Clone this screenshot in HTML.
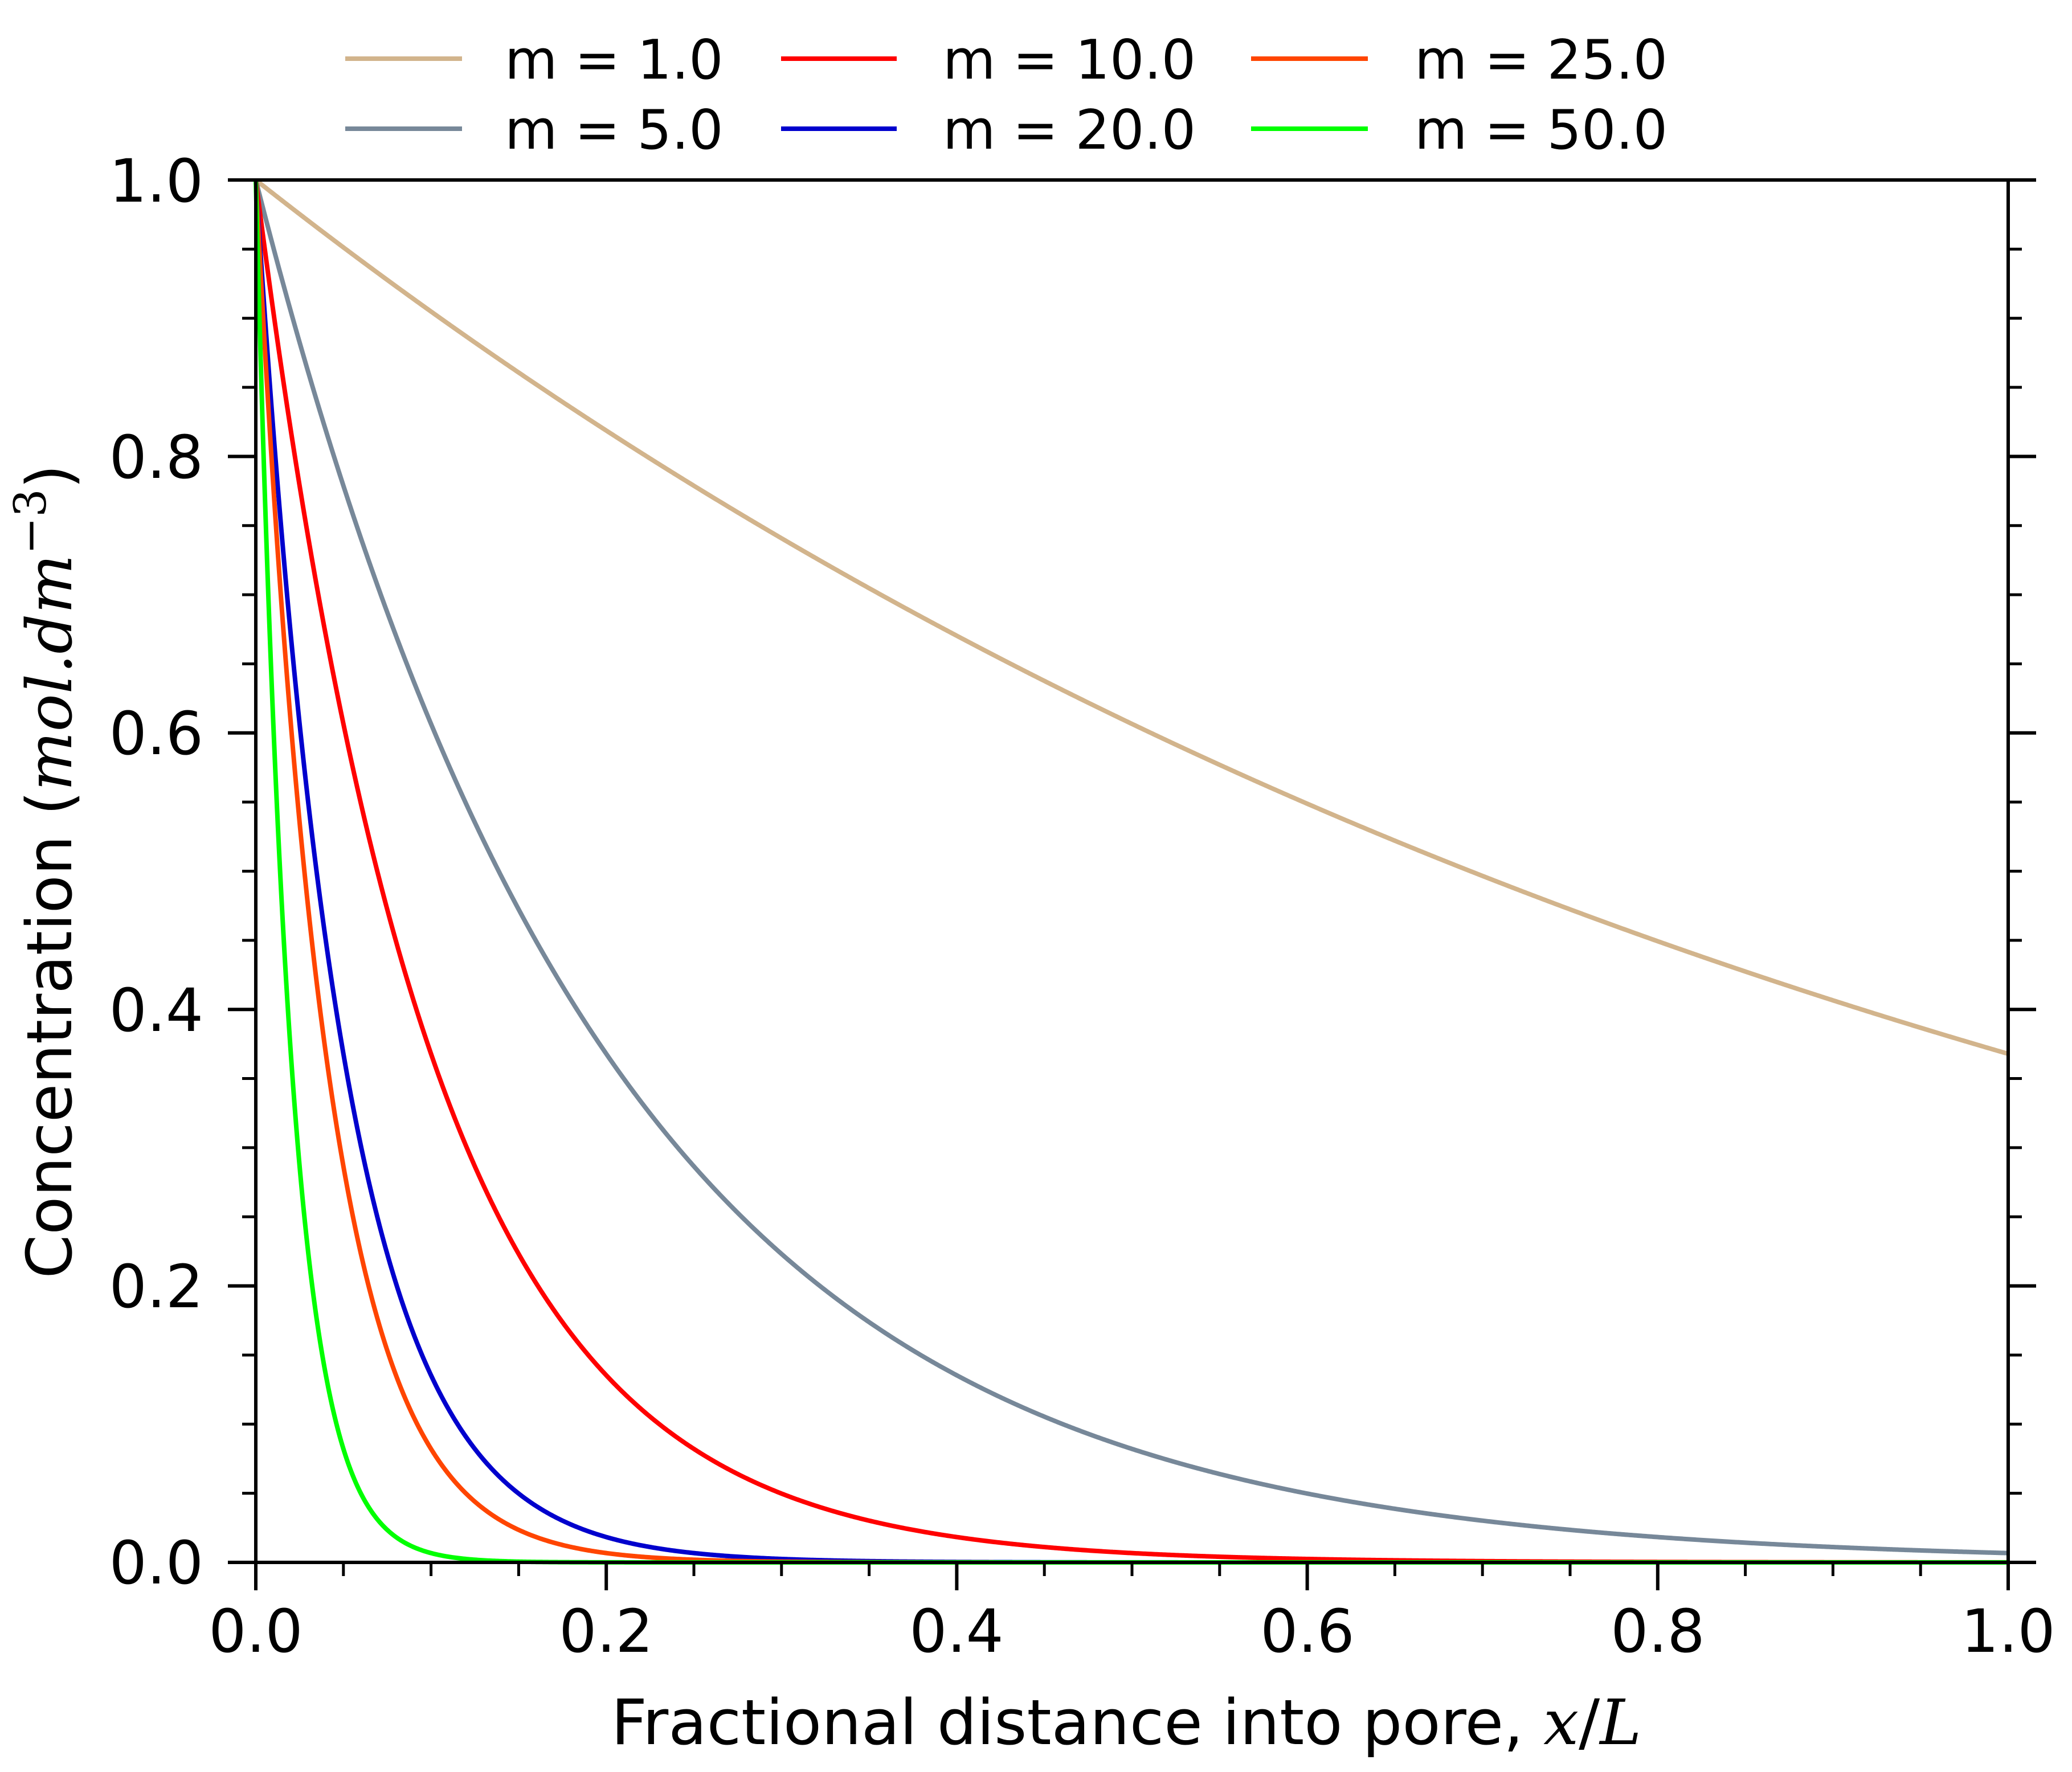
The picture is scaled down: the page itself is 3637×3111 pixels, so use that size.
<!DOCTYPE html>
<html><head><meta charset="utf-8"><style>
html,body{margin:0;padding:0;background:#fff;}
svg{display:block;}
text{font-family:"DejaVu Sans","Liberation Sans",sans-serif;fill:#000;}
</style></head><body>
<svg id="s" width="3637" height="3111" viewBox="0 0 3637 3111" xmlns="http://www.w3.org/2000/svg">
<rect width="3637" height="3111" fill="#fff"/>
<g id="curves" fill="none" stroke-width="8" stroke-linejoin="round" stroke-linecap="butt"></g>
<g id="ticks" stroke="#000"></g>
<rect x="449" y="316" width="3076" height="2427" fill="none" stroke="#000" stroke-width="6"/>
<g font-size="104" text-anchor="end">
<text x="357" y="2780">0.0</text>
<text x="357" y="2295">0.2</text>
<text x="357" y="1810">0.4</text>
<text x="357" y="1324">0.6</text>
<text x="357" y="839">0.8</text>
<text x="357" y="354">1.0</text>
</g>
<g font-size="104" text-anchor="middle">
<text x="449" y="2900">0.0</text>
<text x="1064" y="2900">0.2</text>
<text x="1679" y="2900">0.4</text>
<text x="2295" y="2900">0.6</text>
<text x="2910" y="2900">0.8</text>
<text x="3525" y="2900">1.0</text>
</g>
<text x="1977" y="3062" font-size="110" text-anchor="middle">Fractional distance into pore, <tspan font-family="DejaVu Serif, Liberation Serif, serif" font-style="italic">x</tspan>/<tspan font-family="DejaVu Serif, Liberation Serif, serif" font-style="italic">L</tspan></text>
<text transform="translate(125,1530) rotate(-90)" font-size="110" text-anchor="middle">Concentration (<tspan font-family="DejaVu Serif, Liberation Serif, serif" font-style="italic">mol.dm</tspan><tspan font-family="DejaVu Serif, Liberation Serif, serif" font-size="78" dy="-45">−3</tspan><tspan dy="45">)</tspan></text>
<g stroke-width="8">
<line x1="606" y1="103" x2="811" y2="103" stroke="#D2B48C"/>
<line x1="606" y1="226" x2="811" y2="226" stroke="#778899"/>
<line x1="1371" y1="103" x2="1574" y2="103" stroke="#FF0000"/>
<line x1="1371" y1="226" x2="1574" y2="226" stroke="#0000CD"/>
<line x1="2196" y1="103" x2="2401" y2="103" stroke="#FF4500"/>
<line x1="2196" y1="226" x2="2401" y2="226" stroke="#00FF00"/>
</g>
<g font-size="95">
<text x="886" y="138">m = 1.0</text>
<text x="886" y="261">m = 5.0</text>
<text x="1655" y="138">m = 10.0</text>
<text x="1655" y="261">m = 20.0</text>
<text x="2483" y="138">m = 25.0</text>
<text x="2483" y="261">m = 50.0</text>
</g>
</svg>
<script>
(function(){
var NS="http://www.w3.org/2000/svg";
var x0=449,x1=3525,y0=2743,y1=316,W=x1-x0,H=y0-y1;
var series=[[1,"#D2B48C"],[5,"#778899"],[10,"#FF0000"],[20,"#0000CD"],[25,"#FF4500"],[50,"#00FF00"]];
var g=document.getElementById("curves");
series.forEach(function(s){
 var d="",N=1500;
 for(var i=0;i<=N;i++){var t=i/N;var c=Math.exp(-s[0]*t);
  d+=(i?"L":"M")+(x0+W*t).toFixed(2)+" "+(y0-H*c).toFixed(2);}
 var p=document.createElementNS(NS,"path");p.setAttribute("d",d);p.setAttribute("stroke",s[1]);g.appendChild(p);
});
var tk=document.getElementById("ticks");
function ln(a,b,c,d,w){var l=document.createElementNS(NS,"line");l.setAttribute("x1",a);l.setAttribute("y1",b);l.setAttribute("x2",c);l.setAttribute("y2",d);l.setAttribute("stroke-width",w);tk.appendChild(l);}
for(var i=0;i<=20;i++){
 var major=(i%4==0);var L=major?49:24;var w=major?6:5;
 var x=x0+W*i/20;ln(x,y0,x,y0+L,w);
 var y=y0-H*i/20;ln(x0,y,x0-L,y,w);ln(x1,y,x1+L,y,w);
}
})();
</script>
</body></html>
